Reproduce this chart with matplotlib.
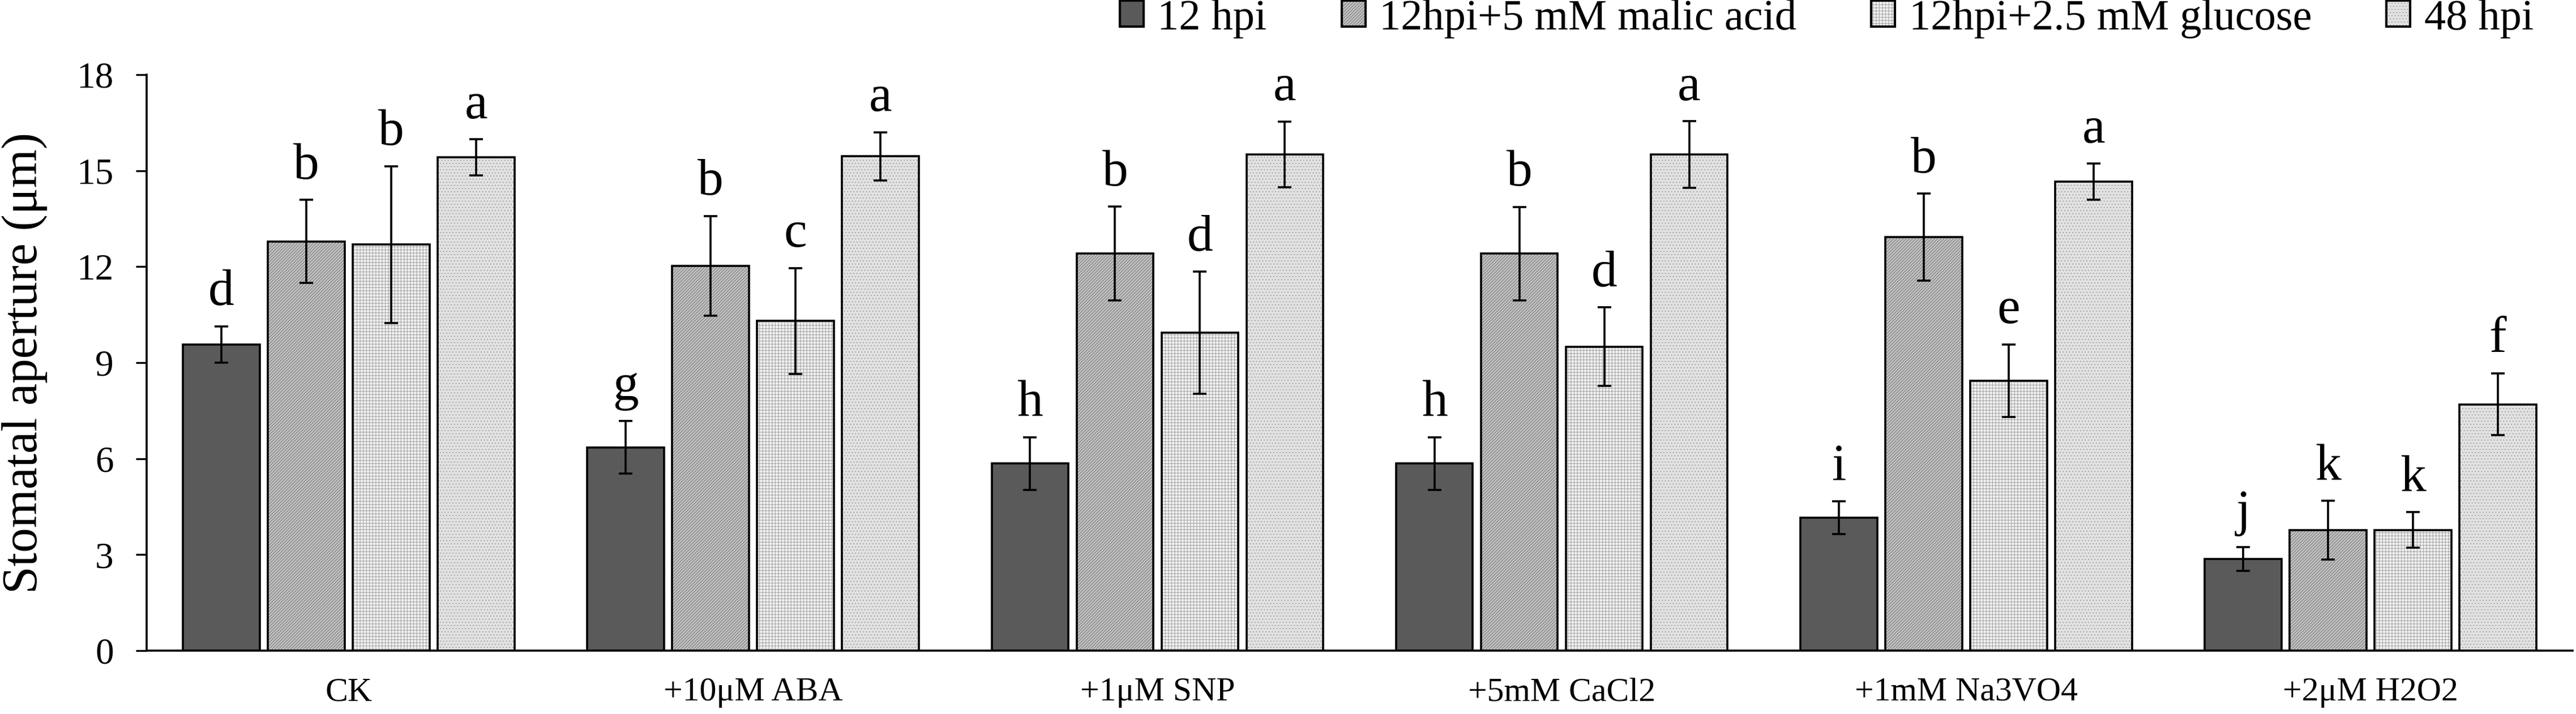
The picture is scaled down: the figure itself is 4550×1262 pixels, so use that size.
import numpy as np
import matplotlib
matplotlib.use("Agg")
import matplotlib.pyplot as plt
from matplotlib.patches import Patch
from matplotlib.legend_handler import HandlerTuple

plt.rcParams['font.family'] = ['Liberation Serif', 'DejaVu Serif']
plt.rcParams['hatch.linewidth'] = 0.8

# data
treatments = ["CK", "+10μM ABA", "+1μM SNP", "+5mM CaCl2", "+1mM Na3VO4", "+2μM H2O2"]
series = ["12 hpi", "12hpi+5 mM malic acid", "12hpi+2.5 mM glucose", "48 hpi"]

hpi12 = [9.57, 6.35, 5.85, 5.85, 4.16, 2.87]
malic = [12.79, 12.02, 12.41, 12.41, 12.92, 3.76]
glucose = [12.69, 10.30, 9.93, 9.50, 8.44, 3.77]
hpi48 = [15.42, 15.45, 15.51, 15.51, 14.66, 7.70]

hpi12_err = [0.57, 0.82, 0.82, 0.82, 0.51, 0.37]
malic_err = [1.30, 1.56, 1.47, 1.46, 1.36, 0.92]
glucose_err = [2.45, 1.66, 1.91, 1.23, 1.13, 0.56]
hpi48_err = [0.56, 0.75, 1.03, 1.04, 0.56, 0.97]

hpi12_sig = ["d", "g", "h", "h", "i", "j"]
malic_sig = ["b", "b", "b", "b", "b", "k"]
glucose_sig = ["b", "c", "d", "d", "e", "k"]
hpi48_sig = ["a", "a", "a", "a", "a", "f"]

values = [hpi12, malic, glucose, hpi48]
errors = [hpi12_err, malic_err, glucose_err, hpi48_err]
letters = [hpi12_sig, malic_sig, glucose_sig, hpi48_sig]

# fill colour, hatch colour, hatch pattern for each series
faces = ["#5a5a5a", "#c2c2c2", "#f2f2f2", "#e2e2e2"]
hatch_cols = ["#5a5a5a", "#7c7c7c", "#a8a8a8", "#a4a4a4"]
hatches = [None, "//////", "+++", "..."]

fig = plt.figure(figsize=(45.5, 12.62), dpi=100)
ax = fig.add_axes([259 / 4550, 1 - 1150 / 1262, (4544 - 259) / 4550, (1150 - 132) / 1262])

x = np.arange(len(treatments))
step = 0.21
width = 0.19

handles = []
for i in range(4):
    pos = x + (i - 1.5) * step
    ax.bar(pos, values[i], width, color=faces[i], edgecolor=hatch_cols[i],
           hatch=hatches[i], linewidth=0, zorder=2)
    ax.bar(pos, values[i], width, fill=False, edgecolor="black",
           linewidth=2.6, zorder=3)
    ax.errorbar(pos, values[i], yerr=errors[i], fmt="none", ecolor="black",
                elinewidth=2.6, capsize=8.5, capthick=2.6, zorder=4)
    for xp, v, e, s in zip(pos, values[i], errors[i], letters[i]):
        ax.annotate(s, xy=(xp, v + e), xytext=(0, 27), textcoords="offset points",
                    ha="center", va="baseline", fontsize=66)
    h_fill = Patch(facecolor=faces[i], edgecolor=hatch_cols[i], hatch=hatches[i], linewidth=0)
    h_edge = Patch(fill=False, edgecolor="black", linewidth=3)
    handles.append((h_fill, h_edge))

ax.set_xlim(-0.5, 5.5)
ax.set_ylim(0, 18)
ax.set_yticks(np.arange(0, 19, 3))
ax.set_xticks(x)
ax.set_xticklabels(treatments, fontsize=43)
ax.tick_params(axis="x", length=0, pad=34)
ax.tick_params(axis="y", labelsize=47, length=14, width=2.4, pad=28)

for side in ["top", "right"]:
    ax.spines[side].set_visible(False)
ax.spines["left"].set_linewidth(2.6)
ax.spines["bottom"].set_linewidth(2.6)

ax.set_ylabel("Stomatal aperture (μm)", fontsize=63)
ax.yaxis.set_label_coords(-0.0408, 0.5)

fig.legend(handles, series, handler_map={tuple: HandlerTuple(ndivide=1)},
           loc="center right", bbox_to_anchor=(4475 / 4550, 1 - 33 / 1262),
           ncol=4, frameon=False, fontsize=55, borderpad=0, borderaxespad=0,
           handlelength=0.55, handleheight=0.55, handletextpad=0.32,
           columnspacing=1.73)

fig.savefig("out.png", dpi=100)
